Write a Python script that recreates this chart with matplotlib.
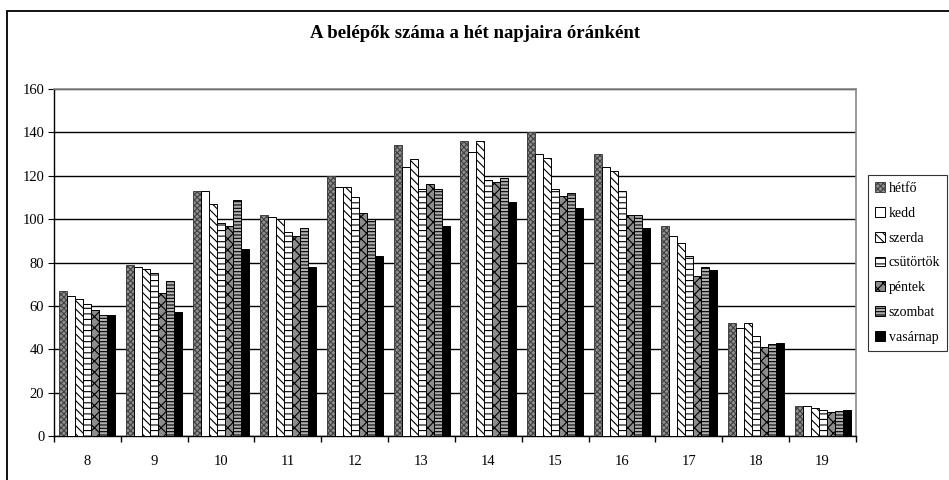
import matplotlib.pyplot as plt
import numpy as np
from matplotlib.patches import Rectangle

plt.rcParams['font.family'] = ['Liberation Serif', 'DejaVu Serif']
plt.rcParams['hatch.linewidth'] = 0.8

hours = ['8', '9', '10', '11', '12', '13', '14', '15', '16', '17', '18', '19']
days = ['hétfő', 'kedd', 'szerda', 'csütörtök', 'péntek', 'szombat', 'vasárnap']

hetfo     = [67, 79, 113, 102, 120, 134, 136, 140, 130, 97, 52, 14]
kedd      = [64.5, 78, 113, 101, 115, 124, 131, 130, 124, 92, 50, 14]
szerda    = [63, 77, 107, 100, 115, 127.5, 136, 128, 122, 89, 52, 13]
csutortok = [61, 75, 98, 94, 110, 114, 118, 114, 113, 83, 46, 12]
pentek    = [58, 66, 97, 92, 103, 116, 117, 110.5, 102, 74, 41, 11]
szombat   = [56, 71.5, 109, 96, 100, 114, 119, 112, 102, 78, 42.5, 11.5]
vasarnap  = [56, 57, 86, 78, 83, 97, 108, 105, 96, 76.5, 43, 12]

series = [hetfo, kedd, szerda, csutortok, pentek, szombat, vasarnap]
# fill / hatch / edge for each day
styles = [
    ('#909090', 'xxxxxx', '#404040'),
    ('white', None, 'black'),
    ('white', '\\\\\\\\', 'black'),
    ('white', '---', 'black'),
    ('#8c8c8c', 'xxx', 'black'),
    ('#b0b0b0', '-----', 'black'),
    ('black', None, 'black'),
]

fig = plt.figure(figsize=(9.49, 4.80), dpi=100)
ax = fig.add_axes([54/949, 1-436/480, (856-54)/949, (436-89)/480])

# outer chart border
fig.patches.append(Rectangle((7/949, -0.1), 1.1, 1-11/480+0.1, transform=fig.transFigure,
                             fill=False, edgecolor='black', linewidth=1.3))

x = np.arange(len(hours))
w = 0.12
for i, (vals, (fc, h, ec)) in enumerate(zip(series, styles)):
    ax.bar(x + (i - 3) * w, vals, w, color=fc, hatch=h, edgecolor=ec,
           linewidth=0.7, label=days[i], zorder=3)

ax.set_ylim(0, 160)
ax.set_xlim(-0.5, len(hours) - 0.5)
ax.set_yticks(range(0, 161, 20))
ax.yaxis.grid(True, color='black', linewidth=1.0)
ax.set_axisbelow(True)

ax.set_xticks(x)
ax.set_xticklabels(hours)
ax.set_xticks(np.arange(-0.5, len(hours)), minor=True)
ax.tick_params(axis='x', which='major', length=0, pad=14, labelsize=10.5)
ax.tick_params(axis='x', which='minor', length=4, direction='out', width=1)
ax.tick_params(axis='y', length=4, direction='out', labelsize=10.5, pad=3)

for s in ['top', 'right']:
    ax.spines[s].set_color('#888888')
    ax.spines[s].set_linewidth(1.2)
for s in ['left', 'bottom']:
    ax.spines[s].set_linewidth(1.0)

fig.text(475/949, 1-34/480, 'A belépők száma a hét napjaira óránként',
         ha='center', va='center', fontsize=13.5, fontweight='bold')

leg = fig.legend(loc='upper left', bbox_to_anchor=(868/949, 1-175/480),
                 fontsize=10, frameon=True, fancybox=False, edgecolor='black',
                 handlelength=0.7, handleheight=0.7, handletextpad=0.3,
                 labelspacing=0.85, borderpad=0.5, borderaxespad=0)
leg.get_frame().set_linewidth(0.8)

fig.savefig('out.png', dpi=100)
